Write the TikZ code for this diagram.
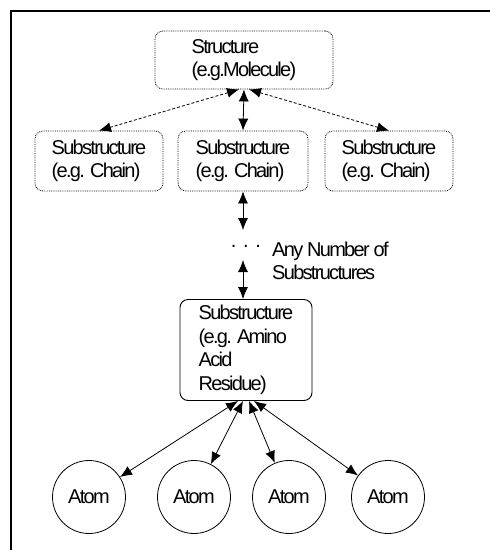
\documentclass[tikz,border=0pt]{standalone}
\usepackage{fontspec}
\setmainfont{Liberation Sans}[LetterSpace=-8.5]
\usetikzlibrary{arrows.meta, positioning, math}

\tikzset{
  boxfont/.style={font=\fontsize{20}{23.5}\selectfont},
  dotbox/.style={draw, densely dotted, line width=0.8pt, rounded corners=8pt, align=left, boxfont},
  solidbox/.style={draw, line width=0.9pt, rounded corners=8pt, align=left, boxfont},
  atomnode/.style={draw, circle, line width=0.8pt, minimum size=73pt, inner sep=0pt, boxfont},
  link/.style={{Latex[length=12pt,width=10pt]}-{Latex[length=12pt,width=10pt]}, line width=0.8pt},
  dashlink/.style={link, densely dashed},
}

\begin{document}
\begin{tikzpicture}[x=1pt,y=-1pt]
\tikzmath{
\W=490;
\H=550;
\cx=244;
\ytop=60;
\ysub=161;
\yres=350;
\yatom=497;
}
\useasboundingbox (0,0) rectangle (\W,\H);

%frame
\draw[line width=1.1pt] (11,\H) -- (11,11) -- (\W,11);

%molecule
\node[dotbox, minimum width=178pt, minimum height=58pt] (struct) at (\cx,\ytop) {Structure\\(e.g.Molecule)};

%chains
\node[dotbox, minimum width=128pt, minimum height=60pt] (sub1) at (99,\ysub) {Substructure\\(e.g. Chain)};
\node[dotbox, minimum width=130pt, minimum height=60pt] (sub2) at (243,\ysub) {Substructure\\(e.g. Chain)};
\node[dotbox, minimum width=128pt, minimum height=60pt] (sub3) at (389,\ysub) {Substructure\\(e.g. Chain)};

\draw[dashlink] ([xshift=-5pt]struct.south) -- (sub1.north);
\draw[link] (struct.south) -- (sub2.north);
\draw[dashlink] ([xshift=5pt]struct.south) -- (sub3.north);

%any number
\node[boxfont, inner sep=0pt] (dots) at (246,246) {.\,\,.\,\,.};
\node[boxfont, align=left, anchor=west, inner sep=0pt] (anyn) at (272,261) {Any Number of\\Substructures};
\coordinate (dtop) at (243,230);
\coordinate (dbot) at (243,260);
\draw[link] (sub2.south) -- (dtop);

%residue
\node[solidbox, minimum width=132pt, minimum height=101pt] (res) at (246,\yres) {Substructure\\(e.g. Amino\\Acid\\Residue)};
\draw[link] (dbot) -- ([xshift=-3pt]res.north);

%atoms
\node[atomnode] (atom1) at (89,\yatom) {Atom};
\node[atomnode] (atom2) at (194,\yatom) {Atom};
\node[atomnode] (atom3) at (289,\yatom) {Atom};
\node[atomnode] (atom4) at (388,\yatom) {Atom};

\draw[link] ([xshift=-8pt]res.south) -- (atom1);
\draw[link] ([xshift=-3pt]res.south) -- (atom2);
\draw[link] ([xshift=3pt]res.south) -- (atom3);
\draw[link] ([xshift=8pt]res.south) -- (atom4);
\end{tikzpicture}
\end{document}
